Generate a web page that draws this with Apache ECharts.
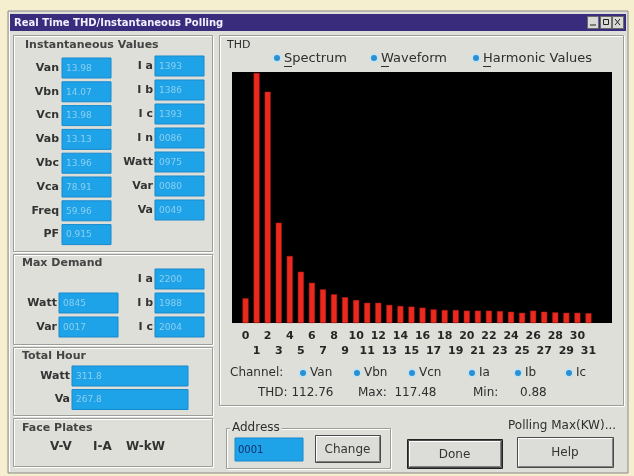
<!DOCTYPE html>
<html><head><meta charset="utf-8">
<script src="https://cdn.jsdelivr.net/npm/echarts@6/dist/echarts.min.js"></script>
<style>html,body{margin:0;padding:0;background:#f6efcf;}#c{width:634px;height:476px;}</style>
</head><body><div id="c"></div>
<script>
// ---- data ----
const harmonicOrders = ['0','1','2','3','4','5','6','7','8','9','10','11','12','13','14','15','16','17','18','19','20','21','22','23','24','25','26','27','28','29','30','31'];
const thdSpectrum = [11.6,117.48,108.7,47.1,31.5,24.1,18.9,15.8,13.5,12.1,10.8,9.5,9.5,8.5,8.0,7.7,7.2,6.4,6.1,6.1,5.8,5.8,5.8,5.6,5.3,4.8,5.8,5.3,5.0,4.8,4.8,4.6];
const spectrumMax = 117.48;
const thdValueText = '112.76';
const maxValueText = '117.48';
const minValueText = '0.88';
const instLeftLabels = ['Van','Vbn','Vcn','Vab','Vbc','Vca','Freq','PF'];
const instLeftValues = ['13.98','14.07','13.98','13.13','13.96','78.91','59.96','0.915'];
const instRightLabels = ['I a','I b','I c','I n','Watt','Var','Va'];
const instRightValues = ['1393','1386','1393','0086','0975','0080','0049'];
const demandCurrentLabels = ['I a','I b','I c'];
const demandCurrentValues = ['2200','1988','2004'];
const demandPowerLabels = ['Watt','Var'];
const demandPowerValues = ['0845','0017'];
const totalHourLabels = ['Watt','Va'];
const totalHourValues = ['311.8','267.8'];
const viewModes = ['Spectrum','Waveform','Harmonic Values'];
const channelLabels = ['Van','Vbn','Vcn','Ia','Ib','Ic'];

// ---- dialog chrome helpers ----
const FONT = '"DejaVu Sans", sans-serif';
const G = [];
function rect(x,y,w,h,fill,stroke,z){
  G.push({type:'rect', silent:true, z:(z===undefined?-5:z), shape:{x:x,y:y,width:w,height:h},
    style:{fill:fill||'transparent', stroke:stroke||'transparent', lineWidth:1}});
}
function line(x1,y1,x2,y2,color,z){
  G.push({type:'line', silent:true, z:(z===undefined?-4:z), shape:{x1:x1,y1:y1,x2:x2,y2:y2}, style:{stroke:color, lineWidth:1}});
}
function text(x,y,t,o){
  o = o || {};
  const size = o.size || 12;
  G.push({type:'text', silent:true, z:(o.z===undefined?-3:o.z), x:x, y:y,
    style:{text:t, fill:o.color||'#2e2e2e', font:(o.weight||'normal')+' '+size+'px '+FONT,
      align:o.align||'left', textAlign:o.align||'left', verticalAlign:'middle', textVerticalAlign:'middle',
      backgroundColor:o.bg, padding:o.bg?[0,2]:0}});
}
function etched(x,y,w,h){
  rect(x+1.5,y+1.5,w,h,null,'#ffffff',-6);
  rect(x+0.5,y+0.5,w,h,null,'#9c9c98',-6);
}
function field(x,y,w,h,val,color){
  rect(x,y,w,h,'#1ea3e8','#1889cc',-5);
  text(x+4,y+h/2+0.5,val,{size:9,color:color||'#8dcff0'});
}
function radio(x,y){
  G.push({type:'circle', silent:true, z:-4, shape:{cx:x,cy:y,r:4.5}, style:{fill:'#bfe2f4'}});
  G.push({type:'circle', silent:true, z:-3, shape:{cx:x,cy:y,r:3}, style:{fill:'#2a8fd3'}});
}
function button(x,y,w,h,label,isDefault){
  rect(x+0.5,y+0.5,w,h,'#dcdcd8','#4a4a4a',-5);
  line(x+1.5,y+1.5,x+w-1,y+1.5,'#ffffff');
  line(x+1.5,y+1.5,x+1.5,y+h-1,'#ffffff');
  line(x+1.5,y+h-0.5,x+w-0.5,y+h-0.5,'#808080');
  line(x+w-0.5,y+1.5,x+w-0.5,y+h-0.5,'#808080');
  if (isDefault){ rect(x-0.5,y-0.5,w+2,h+2,null,'#222222',-5); }
  text(x+w/2,y+h/2+1,label,{align:'center',size:12,color:'#333'});
}

// window and title bar
rect(8,11,620,462,'#dedfd9','#8a8a86',-10);
line(9.5,12,9.5,472,'#ffffff',-9);
rect(10,14,616,17,'#3a2c7c',null,-8);
text(14,23,'Real Time THD/Instantaneous Polling',{size:10,weight:'bold',color:'#f2f0ff'});
[587,600,612].forEach(function(bx){
  rect(bx+0.5,16.5,11,12,'#d8d8d4','#6a6a6a',-7);
});
line(590,25,596,25,'#222',-6);
rect(603.5,19.5,5,5,null,'#222',-6);
line(615,19,620,25,'#222',-6); line(620,19,615,25,'#222',-6);

// left column group panels
etched(13,35,199,216);
etched(13,254,199,90);
etched(13,347,199,68);
etched(13,418,199,48);
// right groups
etched(219,35,404,370);
etched(226,428,164,40);

// Instantaneous values
text(25,45,'Instantaneous Values',{size:11,weight:'bold',color:'#444'});
instLeftLabels.forEach(function(l,i){
  const cy = 68 + i*23.8;
  text(59,cy,l,{align:'right',size:11,weight:'bold',color:'#333'});
  field(62,cy-10,49,20,instLeftValues[i]);
});
instRightLabels.forEach(function(l,i){
  const cy = 66 + i*24;
  text(153,cy,l,{align:'right',size:11,weight:'bold',color:'#333'});
  field(155,cy-10,49,20,instRightValues[i]);
});
// Max demand
text(22,263,'Max Demand',{size:11,weight:'bold',color:'#444'});
demandCurrentLabels.forEach(function(l,i){
  const cy = 279 + i*24;
  text(153,cy,l,{align:'right',size:11,weight:'bold',color:'#333'});
  field(155,cy-10,49,20,demandCurrentValues[i]);
});
demandPowerLabels.forEach(function(l,i){
  const cy = 303 + i*24;
  text(57,cy,l,{align:'right',size:11,weight:'bold',color:'#333'});
  field(59,cy-10,59,20,demandPowerValues[i]);
});
// Total hour
text(22,356,'Total Hour',{size:11,weight:'bold',color:'#444'});
totalHourLabels.forEach(function(l,i){
  const cy = 376 + i*23.5;
  text(70,cy,l,{align:'right',size:11,weight:'bold',color:'#333'});
  field(72,cy-10,116,20,totalHourValues[i]);
});
// Face plates
text(22,428,'Face Plates',{size:11,weight:'bold',color:'#444'});
text(50,447,'V-V',{size:12,weight:'bold',color:'#333'});
text(93,447,'I-A',{size:12,weight:'bold',color:'#333'});
text(126,447,'W-kW',{size:12,weight:'bold',color:'#333'});

// THD group
text(227,45,'THD',{size:11,color:'#2e2e2e'});
const modeX = [277,374,476];
viewModes.forEach(function(m,i){
  radio(modeX[i],58);
  text(modeX[i]+7,59,m,{size:13,color:'#2e2e2e'});
  line(modeX[i]+7,66.5,modeX[i]+15,66.5,'#2e2e2e');
});
// black plot area
rect(232,72,380,251,'#000000',null,-2);

// channel row
text(230,373,'Channel:',{size:12,color:'#2e2e2e'});
const chX = [303,357,412,472,518,569];
channelLabels.forEach(function(c,i){
  radio(chX[i],373);
  text(chX[i]+7,373,c,{size:12,color:'#2e2e2e'});
});
text(258,393,'THD: '+thdValueText,{size:12,color:'#2e2e2e'});
text(358,393,'Max:  '+maxValueText,{size:12,color:'#2e2e2e'});
text(473,393,'Min:',{size:12,color:'#2e2e2e'});
text(520,393,minValueText,{size:12,color:'#2e2e2e'});

// address & buttons
text(230,428,'Address',{size:12,color:'#2e2e2e',bg:'#dedfd9'});
rect(235,438,68,23,'#1ea3e8','#1889cc',-5);
text(238,450,'0001',{size:10,color:'#0d2f6e'});
button(315,435,65,27,'Change',false);
text(508,426,'Polling Max(KW)...',{size:12,color:'#2e2e2e'});
button(408,440,93,27,'Done',true);
button(517,437,96,30,'Help',false);

// ---- chart ----
const chart = echarts.init(document.getElementById('c'), null, {renderer:'canvas'});
chart.setOption({
  backgroundColor:'#f6efcf',
  animation:false,
  graphic:{elements:G},
  grid:{left:240, top:73, width:354, height:250, containLabel:false},
  xAxis:{type:'category', data:harmonicOrders, boundaryGap:true,
    axisLine:{show:false}, axisTick:{show:false}, splitLine:{show:false},
    axisLabel:{interval:0, margin:6, fontSize:11, fontWeight:'bold', lineHeight:15, fontFamily:FONT, color:'#262626',
      formatter:function(v,i){ return i%2===0 ? v : '\n'+v; }}},
  yAxis:{type:'value', min:0, max:spectrumMax, show:false, splitLine:{show:false}},
  series:[{type:'bar', data:thdSpectrum, barWidth:6, z:3,
    itemStyle:{color:'#ea2a1e', borderColor:'#b81a12', borderWidth:0.5}}]
});
</script></body></html>
